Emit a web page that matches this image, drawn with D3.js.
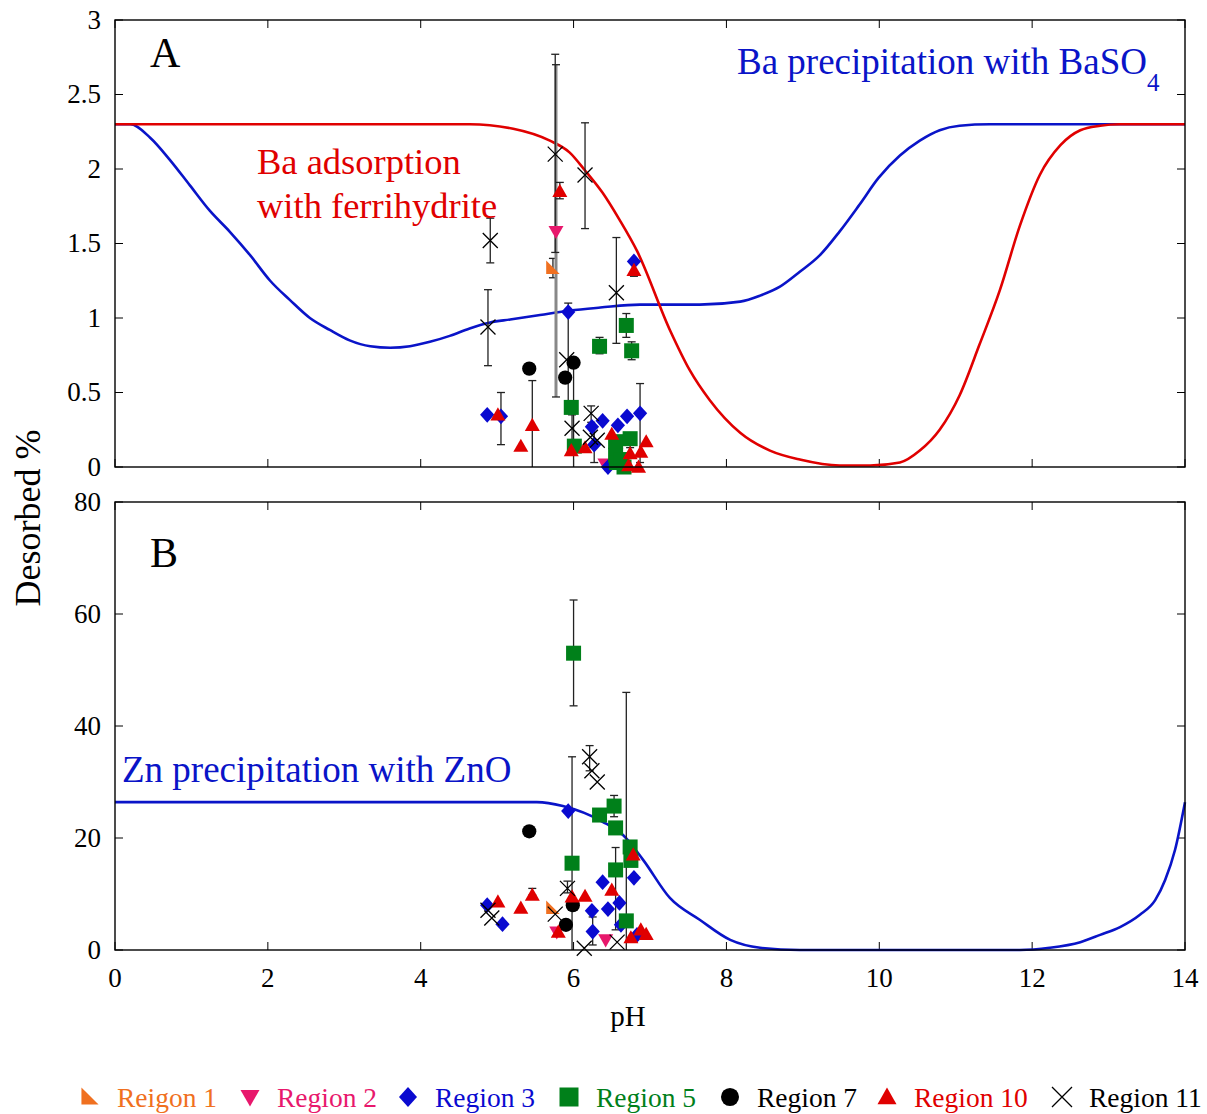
<!DOCTYPE html>
<html><head><meta charset="utf-8">
<script src="https://cdn.jsdelivr.net/npm/d3@7"></script>
<style>body{margin:0;background:#fff}svg{display:block}text{font-family:"Liberation Serif","Times New Roman",serif}</style>
</head><body><svg id="c" width="1207" height="1114"></svg>
<script>
// ---------- data ----------
const xTicks = [0,2,4,6,8,10,12,14];
const yTicksA = [0,0.5,1,1.5,2,2.5,3];
const yTicksB = [0,20,40,60,80];
// curves [pH, value]
const baAdsorption = [[0,2.30],[4.64,2.30],[5.21,2.27],[5.69,2.19],[5.95,2.11],[6.15,1.99],[6.38,1.84],[6.60,1.66],[6.83,1.45],[7.26,0.92],[7.52,0.65],[7.78,0.45],[8.18,0.23],[8.57,0.11],[8.96,0.05],[9.48,0.01],[9.88,0.01],[10.27,0.03],[10.53,0.11],[10.79,0.25],[11.05,0.48],[11.31,0.82],[11.58,1.19],[11.84,1.62],[12.10,1.96],[12.37,2.16],[12.63,2.26],[12.89,2.29],[13.15,2.30],[14,2.30]];
const baPrecip = [[0,2.30],[0.20,2.30],[0.46,2.21],[0.72,2.06],[0.98,1.89],[1.24,1.72],[1.50,1.58],[1.77,1.42],[2.03,1.25],[2.29,1.12],[2.55,1.00],[2.81,0.92],[3.07,0.85],[3.34,0.81],[3.60,0.80],[3.86,0.81],[4.12,0.84],[4.38,0.88],[4.64,0.93],[4.91,0.97],[5.17,0.99],[5.56,1.02],[5.95,1.05],[6.35,1.07],[6.87,1.09],[7.65,1.09],[8.18,1.11],[8.44,1.15],[8.70,1.21],[8.96,1.31],[9.22,1.42],[9.48,1.58],[9.74,1.76],[9.99,1.94],[10.27,2.09],[10.53,2.19],[10.79,2.26],[11.05,2.29],[11.45,2.30],[14,2.30]];
const znPrecip = [[0,26.4],[4.64,26.4],[5.52,26.4],[5.86,25.7],[6.38,22.9],[6.65,20.5],[6.91,16.1],[7.26,9.3],[7.65,5.4],[8.05,1.8],[8.44,0.4],[8.96,0],[11.84,0],[12.23,0.4],[12.63,1.4],[12.89,2.7],[13.15,4.1],[13.41,6.3],[13.61,8.9],[13.74,12.5],[13.87,17.9],[14,26.4]];
// points [pH, value, errLow, errHigh]
const r1A = [[5.73,1.335,1.27,1.40]];
const r2A = [[5.77,1.58,0.47,2.70],[6.41,0.02]];
const r3A = [[4.87,0.35],[5.05,0.34,0.15,0.50],[5.93,1.04,0.42,1.10],[6.79,1.38],[6.24,0.27],[6.38,0.31],[6.27,0.15,0.03,0.27],[6.58,0.28],[6.70,0.34],[6.87,0.36,0.03,0.56],[6.45,0.0]];
const r5A = [[6.69,0.95,0.87,1.03],[6.34,0.81,0.76,0.87],[6.76,0.78,0.72,0.84],[5.97,0.40],[6.01,0.14],[6.55,0.17],[6.55,0.08],[6.56,0.03],[6.74,0.19,0.13,0.21],[6.66,0.0],[6.62,0.05]];
const r7A = [[5.42,0.66],[5.89,0.60],[6.00,0.70,0.0,0.70]];
const r10A = [[5.82,1.85,1.80,1.91],[6.79,1.32,1.28,1.38],[5.01,0.35],[5.46,0.28,0.0,0.58],[5.31,0.14],[5.97,0.11],[6.15,0.13],[6.50,0.22],[6.74,0.09],[6.88,0.10],[6.95,0.17],[6.72,0.01],[6.85,0.0]];
const r11A = [[4.91,1.52,1.37,1.67],[4.88,0.94,0.68,1.19],[5.76,2.10,1.44,2.77],[6.15,1.96,1.60,2.31],[6.56,1.17,0.83,1.54],[5.91,0.72],[5.98,0.26,0.18,0.35],[6.23,0.36,0.30,0.41],[6.31,0.18],[6.22,0.20]];
const r1B = [[5.73,7.5]];
const r2B = [[5.78,3.2],[6.42,1.8]];
const r3B = [[4.87,8.0],[5.07,4.6],[5.93,24.8],[6.38,12.1],[6.79,12.9],[6.45,7.3],[6.60,8.4],[6.24,7.0],[6.25,3.3,0.9,5.9],[6.83,2.7],[6.62,4.5]];
const r5B = [[6.00,53,43.6,62.5],[5.98,15.5,0,34.5],[6.34,24.1],[6.53,25.7,23.8,27.6],[6.55,21.8],[6.74,18.4],[6.75,16.0],[6.55,14.3,3.6,18.3],[6.69,5.2,0,46]];
const r7B = [[5.42,21.2],[5.99,8.0],[5.90,4.5]];
const r10B = [[5.01,8.6],[5.31,7.5],[5.46,9.8,9.8,11.0],[5.98,9.5],[6.15,9.6],[5.80,3.2],[6.50,10.7],[6.78,17.0],[6.75,2.2],[6.88,3.6],[6.95,2.8]];
const r11B = [[4.88,7.1],[4.93,5.7],[5.92,11.0,10.2,12.3],[5.76,6.4],[6.21,34.5,32,36.5],[6.24,32.0],[6.31,30.0],[6.14,0.3],[6.57,1.4]];
const regionNames = ["Reigon 1","Region 2","Region 3","Region 5","Region 7","Region 10","Region 11"];

// ---------- styles ----------
const colors = ["#f07020","#e8186c","#0a0ad0","#00801a","#000000","#e00000","#000000"];
const shapes = ["rtri","dtri","diamond","square","circle","utri","cross"];

const svg = d3.select("#c");
const x = d3.scaleLinear().domain([0,14]).range([115,1185]);
const yA = d3.scaleLinear().domain([0,3]).range([467,20]);
const yB = d3.scaleLinear().domain([0,80]).range([950,502]);

function marker(g, shape, color, cx, cy, s){
  const h = s/2;
  if(shape==="circle") g.append("circle").attr("cx",cx).attr("cy",cy).attr("r",h*0.95).attr("fill",color);
  else if(shape==="square") g.append("rect").attr("x",cx-h).attr("y",cy-h).attr("width",s).attr("height",s).attr("fill",color);
  else if(shape==="diamond") g.append("path").attr("d",`M${cx},${cy-h*1.05}L${cx+h*0.95},${cy}L${cx},${cy+h*1.05}L${cx-h*0.95},${cy}Z`).attr("fill",color);
  else if(shape==="utri") g.append("path").attr("d",`M${cx},${cy-h}L${cx+h},${cy+h*0.75}L${cx-h},${cy+h*0.75}Z`).attr("fill",color);
  else if(shape==="dtri") g.append("path").attr("d",`M${cx-h},${cy-h*0.75}L${cx+h},${cy-h*0.75}L${cx},${cy+h}Z`).attr("fill",color);
  else if(shape==="rtri") g.append("path").attr("d",`M${cx-h*0.9},${cy-h}L${cx+h*0.9},${cy+h*0.8}L${cx-h*0.9},${cy+h*0.8}Z`).attr("fill",color);
  else if(shape==="cross") g.append("path").attr("d",`M${cx-h},${cy-h}L${cx+h},${cy+h}M${cx-h},${cy+h}L${cx+h},${cy-h}`).attr("stroke",color).attr("stroke-width",1.3).attr("fill","none");
}

function panel(y, ticks, fmt, series, curves, showX){
  const g = svg.append("g");
  const [y0,y1] = y.range();
  ticks.forEach(t=>{
    g.append("line").attr("x1",115).attr("x2",123).attr("y1",y(t)).attr("y2",y(t)).attr("stroke","#000");
    g.append("line").attr("x1",1177).attr("x2",1185).attr("y1",y(t)).attr("y2",y(t)).attr("stroke","#000");
    g.append("text").attr("x",101).attr("y",y(t)).attr("dy","0.33em").attr("text-anchor","end").attr("font-size",27).text(fmt(t));
  });
  xTicks.forEach(t=>{
    g.append("line").attr("x1",x(t)).attr("x2",x(t)).attr("y1",y0).attr("y2",y0-8).attr("stroke","#000");
    g.append("line").attr("x1",x(t)).attr("x2",x(t)).attr("y1",y1).attr("y2",y1+8).attr("stroke","#000");
    if(showX) g.append("text").attr("x",x(t)).attr("y",y0+37).attr("text-anchor","middle").attr("font-size",27).text(t);
  });
  curves.forEach(([data,color])=>{
    g.append("path").datum(data)
      .attr("d", d3.line().x(d=>x(d[0])).y(d=>y(d[1])).curve(d3.curveMonotoneX))
      .attr("fill","none").attr("stroke",color).attr("stroke-width",2.6);
  });
  series.forEach((pts,i)=>{
    pts.forEach(p=>{
      if(p.length<4) return;
      const px = x(p[0]);
      const gray = (i===1);
      const col = gray ? "#888" : "#222";
      g.append("line").attr("x1",px).attr("x2",px).attr("y1",y(p[2])).attr("y2",y(p[3])).attr("stroke",col).attr("stroke-width",gray?3:1.3);
      [p[2],p[3]].forEach(v=>{
        if(v<=0) return;
        g.append("line").attr("x1",px-4).attr("x2",px+4).attr("y1",y(v)).attr("y2",y(v)).attr("stroke","#222").attr("stroke-width",1.3);
      });
    });
  });
  series.forEach((pts,i)=>{
    pts.forEach(p=>marker(g, shapes[i], colors[i], x(p[0]), y(p[1]), 15));
  });
  g.append("rect").attr("x",115).attr("y",y1).attr("width",1070).attr("height",y0-y1).attr("fill","none").attr("stroke","#000").attr("stroke-width",1.4);
  return g;
}

panel(yA, yTicksA, d=>String(d), [r1A,r2A,r3A,r5A,r7A,r10A,r11A], [[baPrecip,"#0a14c8"],[baAdsorption,"#e00000"]], false);
panel(yB, yTicksB, d=>String(d), [r1B,r2B,r3B,r5B,r7B,r10B,r11B], [[znPrecip,"#0a14c8"]], true);

// annotations
svg.append("text").attr("x",150).attr("y",67).attr("font-size",42).text("A");
svg.append("text").attr("x",150).attr("y",567).attr("font-size",42).text("B");
const t1 = svg.append("text").attr("x",737).attr("y",74).attr("font-size",37).attr("fill","#0a14c8");
t1.append("tspan").text("Ba precipitation with BaSO");
t1.append("tspan").attr("font-size",25).attr("dy",17).text("4");
svg.append("text").attr("x",257).attr("y",174).attr("font-size",36.5).attr("fill","#e00000").text("Ba adsorption");
svg.append("text").attr("x",257).attr("y",218).attr("font-size",36.5).attr("fill","#e00000").text("with ferrihydrite");
svg.append("text").attr("x",122).attr("y",782).attr("font-size",37).attr("fill","#0a14c8").text("Zn precipitation with ZnO");
svg.append("text").attr("transform","translate(40,518) rotate(-90)").attr("text-anchor","middle").attr("font-size",36).text("Desorbed %");
svg.append("text").attr("x",628).attr("y",1026).attr("text-anchor","middle").attr("font-size",29).text("pH");

// legend
const legX = [90,250,408,569,730,887,1062];
const lg = svg.append("g");
regionNames.forEach((n,i)=>{
  marker(lg, shapes[i], colors[i], legX[i], 1097, shapes[i]==="cross"?20:19);
  lg.append("text").attr("x",legX[i]+27).attr("y",1107).attr("font-size",27.5).attr("fill",colors[i]).text(n);
});
</script></body></html>
